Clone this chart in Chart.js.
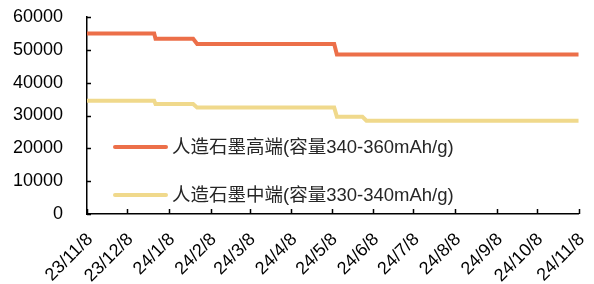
<!DOCTYPE html>
<html>
<head>
<meta charset="utf-8">
<script src="https://cdn.jsdelivr.net/npm/chart.js@4/dist/chart.umd.min.js"></script>
<style>
  body { margin: 0; background: #fff; }
  canvas { display: block; }
</style>
</head>
<body>
<canvas id="chart" width="594" height="284"></canvas>
<script>
// price series (yuan/t); dates are the points where the level changes
const highLabel = "人造石墨高端(容量340-360mAh/g)";
const highDates = ["2023-11-08", "2023-12-28", "2023-12-29", "2024-01-26", "2024-01-29", "2024-05-10", "2024-05-12", "2024-11-08"];
const highValues = [55000, 55000, 53400, 53400, 51800, 51800, 48600, 48600];

const midLabel = "人造石墨中端(容量330-340mAh/g)";
const midDates = ["2023-11-08", "2023-12-28", "2023-12-29", "2024-01-26", "2024-01-29", "2024-05-10", "2024-05-12", "2024-05-31", "2024-06-03", "2024-11-08"];
const midValues = [34500, 34500, 33500, 33500, 32400, 32400, 29600, 29600, 28400, 28400];

const tickDates = ["2023-11-08", "2023-12-08", "2024-01-08", "2024-02-08", "2024-03-08", "2024-04-08", "2024-05-08",
  "2024-06-08", "2024-07-08", "2024-08-08", "2024-09-08", "2024-10-08", "2024-11-08"];
const tickLabels = ["23/11/8", "23/12/8", "24/1/8", "24/2/8", "24/3/8", "24/4/8", "24/5/8",
  "24/6/8", "24/7/8", "24/8/8", "24/9/8", "24/10/8", "24/11/8"];

const startDate = Date.parse(tickDates[0]);
const toDay = (s) => Math.round((Date.parse(s) - startDate) / 86400000);
const toPoints = (dates, values) => dates.map((d, i) => ({ x: toDay(d), y: values[i] }));
const tickDays = tickDates.map(toDay);

const HIGH_COLOR = "#ec6f49";
const MID_COLOR = "#f0d98c";
const FONT = "'Liberation Sans', Arial, 'Noto Sans CJK SC', sans-serif";

// ticks point into the plot area and the legend sits inside it, so draw those by hand
const innerTicks = {
  id: "innerTicks",
  afterDraw(chart) {
    const { ctx, chartArea, scales } = chart;
    ctx.save();
    ctx.strokeStyle = "#000";
    ctx.lineWidth = 1.5;
    ctx.beginPath();
    scales.y.ticks.forEach((t) => {
      const y = Math.round(scales.y.getPixelForValue(t.value)) + 0.5;
      ctx.moveTo(chartArea.left, y);
      ctx.lineTo(chartArea.left + 4, y);
    });
    scales.x.ticks.forEach((t) => {
      const x = Math.round(scales.x.getPixelForValue(t.value)) + 0.5;
      ctx.moveTo(x, chartArea.bottom);
      ctx.lineTo(x, chartArea.bottom - 5);
    });
    ctx.stroke();
    ctx.restore();
  },
};

const innerLegend = {
  id: "innerLegend",
  afterDatasetsDraw(chart) {
    const { ctx } = chart;
    const rows = [147, 195];
    ctx.save();
    chart.data.datasets.forEach((ds, i) => {
      const y = rows[i];
      ctx.strokeStyle = ds.borderColor;
      ctx.lineWidth = 4;
      ctx.lineCap = "round";
      ctx.beginPath();
      ctx.moveTo(115, y);
      ctx.lineTo(166, y);
      ctx.stroke();
      ctx.fillStyle = "#262626";
      ctx.font = "18.5px " + FONT;
      ctx.textBaseline = "middle";
      ctx.fillText(ds.label, 172, y + 1);
    });
    ctx.restore();
  },
};

new Chart(document.getElementById("chart"), {
  type: "line",
  data: {
    datasets: [
      { label: highLabel, data: toPoints(highDates, highValues), borderColor: HIGH_COLOR, borderWidth: 4 },
      { label: midLabel, data: toPoints(midDates, midValues), borderColor: MID_COLOR, borderWidth: 4 },
    ],
  },
  options: {
    responsive: false,
    animation: false,
    elements: { point: { radius: 0 }, line: { tension: 0 } },
    layout: { padding: { top: 17, right: 15, left: 0, bottom: 0 } },
    plugins: { legend: { display: false }, tooltip: { enabled: false } },
    scales: {
      x: {
        type: "linear",
        min: 0,
        max: tickDays[tickDays.length - 1],
        afterBuildTicks: (scale) => { scale.ticks = tickDays.map((v) => ({ value: v })); },
        afterFit: (scale) => { scale.height = 70; },
        // grid hidden; tickLength only pushes the labels down
        grid: { display: false, drawTicks: true, tickLength: 15 },
        border: { display: true, color: "#000", width: 1.5 },
        ticks: {
          autoSkip: false,
          maxRotation: 45,
          minRotation: 45,
          padding: 0,
          labelOffset: 3,
          color: "#000",
          font: { family: FONT, size: 18 },
          callback: (v) => tickLabels[tickDays.indexOf(v)],
        },
      },
      y: {
        min: 0,
        max: 60000,
        afterFit: (scale) => { scale.width = 87; },
        grid: { display: false, drawTicks: true, tickLength: 21 },
        border: { display: true, color: "#000", width: 1.5 },
        ticks: {
          stepSize: 10000,
          padding: 3,
          color: "#000",
          font: { family: FONT, size: 18 },
          callback: (v) => String(v),
        },
      },
    },
  },
  plugins: [innerTicks, innerLegend],
});
</script>
</body>
</html>
